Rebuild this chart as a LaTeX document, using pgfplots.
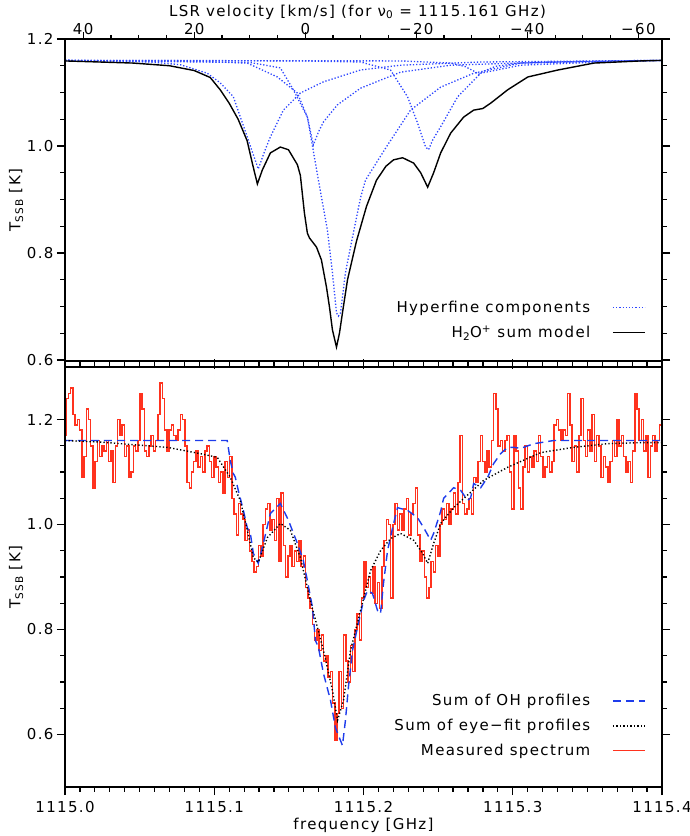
\documentclass[border=0pt]{standalone}
\usepackage{fontspec}
\setmainfont{DejaVu Sans}[LetterSpace=9]
\usepackage{pgfplots}
\pgfplotsset{compat=1.18}

\definecolor{hfblue}{RGB}{45,70,255}
\definecolor{ohblue}{RGB}{30,60,235}
\definecolor{specred}{RGB}{255,50,30}
\newcommand\fs{\fontsize{15}{18}\selectfont}

% frequencies are stored as offsets from 1115 GHz
\pgfplotsset{
  panel/.style={
    scale only axis, width=597pt, anchor=south west, axis on top,
    xmin=0, xmax=0.4,
    xtick={0,0.1,0.2,0.3,0.4}, minor x tick num=9,
    ytick={0.6,0.8,1.0,1.2}, minor y tick num=3,
    tick align=outside,
    major tick length=8pt, minor tick length=4.5pt,
    tick style={draw=black, line width=1.2pt},
    axis line style={line width=1.3pt},
    tick label style={font=\fs},
    label style={font=\fs},
    /pgf/number format/assume math mode=true,
    yticklabel style={/pgf/number format/fixed, /pgf/number format/fixed zerofill,
      /pgf/number format/precision=1, xshift=0pt},
    ylabel={T\textsubscript{SSB} [K]},
    ylabel style={at={(axis description cs:-0.082,0.5)}, anchor=center},
    legend plot pos=right, legend cell align=right,
    legend style={draw=none, fill=none, font=\fs, anchor=south east, row sep=8pt,
      /tikz/every odd column/.append style={column sep=20pt}},
    legend image code/.code={\draw[##1] (0pt,0pt) -- (32pt,0pt);},
  },
  hf/.style={hfblue, line width=1.3pt, dash pattern=on 1.3pt off 1.9pt},
}

\begin{document}
\begin{tikzpicture}
\path[use as bounding box] (0,0) rectangle (690pt,836pt);

% ---------- top panel: model ----------
\begin{axis}[panel, at={(65pt,475pt)}, height=322pt,
  ymin=0.598, ymax=1.2, xtick pos=bottom, xticklabels={},
  legend style={at={(0.978,0.055)}}]

  % hyperfine components
  \addplot[hf] coordinates {(0.0000,1.160) (0.0570,1.157) (0.0772,1.152) (0.0953,1.136)
    (0.1040,1.118) (0.1128,1.092) (0.1221,1.017) (0.1255,0.989) (0.1295,0.957)
    (0.1336,0.989) (0.1376,1.017) (0.1463,1.067) (0.1577,1.099) (0.1732,1.120)
    (0.1980,1.142) (0.2248,1.151) (0.2785,1.157) (0.4000,1.160)};
  \addlegendentry{Hyperfine components}
  \addplot[hf, forget plot] coordinates {(0.0000,1.160) (0.0906,1.158) (0.1221,1.155)
    (0.1423,1.129) (0.1557,1.099) (0.1624,1.054) (0.1664,1.002) (0.1698,1.026)
    (0.1732,1.045) (0.1826,1.077) (0.1980,1.108) (0.2248,1.138) (0.2584,1.151)
    (0.3255,1.157) (0.4000,1.160)};
  \addplot[hf, forget plot] coordinates {(0.0000,1.160) (0.0906,1.157) (0.1242,1.156)
    (0.1443,1.146) (0.1530,1.105) (0.1624,1.054) (0.1698,0.936) (0.1758,0.843)
    (0.1792,0.763) (0.1819,0.688) (0.1832,0.682) (0.1846,0.688) (0.1879,0.763)
    (0.1913,0.811) (0.1980,0.903) (0.2013,0.936) (0.2148,0.996) (0.2315,1.067)
    (0.2517,1.110) (0.2738,1.136) (0.3054,1.155) (0.3590,1.159) (0.4000,1.160)};
  \addplot[hf, forget plot] coordinates {(0.0000,1.160) (0.1577,1.159) (0.1980,1.157)
    (0.2181,1.142) (0.2295,1.092) (0.2362,1.043) (0.2416,0.998) (0.2436,0.993)
    (0.2463,1.011) (0.2517,1.036) (0.2631,1.092) (0.2785,1.136) (0.3054,1.151)
    (0.3590,1.157) (0.4000,1.160)};
  \addplot[hf, forget plot] coordinates {(0.0000,1.160) (0.2248,1.159) (0.2584,1.155)
    (0.2685,1.148) (0.2752,1.138) (0.2772,1.134) (0.2799,1.139) (0.2886,1.149)
    (0.3054,1.155) (0.4000,1.160)};

  % H2O+ sum model
  \addplot[black, line width=1.4pt] coordinates {(0.0000,1.159) (0.0456,1.155)
    (0.0700,1.150) (0.0866,1.141) (0.0973,1.128) (0.1040,1.105) (0.1100,1.080)
    (0.1160,1.050) (0.1220,1.010) (0.1260,0.962) (0.1289,0.929) (0.1322,0.955)
    (0.1376,0.987) (0.1443,0.998) (0.1497,0.993) (0.1557,0.965) (0.1577,0.945)
    (0.1604,0.875) (0.1624,0.837) (0.1638,0.828) (0.1685,0.811) (0.1718,0.787)
    (0.1752,0.736) (0.1772,0.699) (0.1792,0.656) (0.1819,0.624) (0.1839,0.650)
    (0.1859,0.688) (0.1893,0.750) (0.1953,0.822) (0.2020,0.887) (0.2087,0.936)
    (0.2150,0.962) (0.2201,0.974) (0.2262,0.978) (0.2336,0.968) (0.2383,0.950)
    (0.2430,0.923) (0.2470,0.950) (0.2517,0.987) (0.2584,1.024) (0.2671,1.054)
    (0.2738,1.067) (0.2799,1.070) (0.2852,1.080) (0.2966,1.105) (0.3101,1.129)
    (0.3302,1.142) (0.3544,1.155) (0.3859,1.159) (0.4000,1.160)};
  \addlegendentry{H\textsubscript{2}O\textsuperscript{+} sum model}
\end{axis}

% velocity scale on top of the upper panel
\begin{axis}[scale only axis, width=597pt, height=322pt, at={(65pt,475pt)}, anchor=south west,
  axis on top, x dir=reverse, xmin=-64.251, xmax=43.282, ymin=0, ymax=1,
  axis x line*=top, axis y line=none, axis line style={line width=1.3pt},
  xtick={-60,-40,-20,0,20,40}, xticklabels={−60,−40,−20,0,20,40}, minor x tick num=3,
  tick align=outside, major tick length=7pt, minor tick length=4pt,
  tick style={draw=black, line width=1.2pt},
  tick label style={font=\fs}, xticklabel style={yshift=-6pt}, label style={font=\fs},
  xlabel={LSR velocity [km/s] (for ν\textsubscript{0} = 1115.161 GHz)},
  xlabel style={at={(axis description cs:0.5,1.084)}, anchor=center, xshift=-6pt}]
\end{axis}

% ---------- bottom panel: data ----------
\begin{axis}[panel, at={(65pt,49pt)}, height=420pt,
  ymin=0.5, ymax=1.3,
  xticklabels={1115.0,1115.1,1115.2,1115.3,1115.4}, xticklabel style={yshift=-3pt},
  xlabel={frequency [GHz]},
  xlabel style={at={(axis description cs:0.5,-0.0905)}, anchor=center},
  legend style={at={(0.978,0.061)}}]

  \addlegendimage{ohblue, line width=1.4pt, dash pattern=on 8pt off 5pt}
  \addlegendentry{Sum of OH profiles}
  \addlegendimage{black, line width=1.4pt, dash pattern=on 1.3pt off 2.2pt}
  \addlegendentry{Sum of eye−fit profiles}
  \addlegendimage{specred, line width=1.4pt}
  \addlegendentry{Measured spectrum}

  % measured spectrum
  \addplot[draw=specred, line width=1.5pt, const plot mark mid, forget plot] coordinates {
    (0.0000,1.17) (0.0015,1.24) (0.0030,1.25) (0.0045,1.26) (0.0060,1.21) (0.0075,1.19) (0.0090,1.20) (0.0105,1.18) (0.0120,1.09) (0.0135,1.13)
    (0.0150,1.22) (0.0165,1.20) (0.0180,1.15) (0.0195,1.07) (0.0210,1.12) (0.0225,1.16) (0.0240,1.13) (0.0255,1.15) (0.0270,1.14) (0.0285,1.16)
    (0.0300,1.12) (0.0315,1.14) (0.0330,1.08) (0.0345,1.15) (0.0360,1.20) (0.0375,1.17) (0.0390,1.19) (0.0405,1.13) (0.0420,1.15) (0.0435,1.09)
    (0.0450,1.10) (0.0465,1.15) (0.0480,1.14) (0.0495,1.16) (0.0510,1.25) (0.0525,1.22) (0.0540,1.14) (0.0555,1.13) (0.0570,1.15) (0.0585,1.17)
    (0.0600,1.14) (0.0615,1.16) (0.0630,1.21) (0.0645,1.27) (0.0660,1.24) (0.0675,1.18) (0.0690,1.14) (0.0705,1.18) (0.0720,1.19) (0.0735,1.17)
    (0.0750,1.16) (0.0765,1.18) (0.0780,1.21) (0.0795,1.20) (0.0810,1.15) (0.0825,1.08) (0.0840,1.07) (0.0855,1.10) (0.0870,1.12) (0.0885,1.14)
    (0.0900,1.11) (0.0915,1.13) (0.0930,1.10) (0.0945,1.14) (0.0960,1.15) (0.0975,1.12) (0.0990,1.09) (0.1005,1.13) (0.1020,1.11) (0.1035,1.08)
    (0.1050,1.10) (0.1065,1.06) (0.1080,1.12) (0.1095,1.09) (0.1110,1.13) (0.1125,1.05) (0.1140,1.02) (0.1155,0.98) (0.1170,1.04) (0.1185,1.02)
    (0.1200,1.01) (0.1215,0.97) (0.1230,0.99) (0.1245,0.95) (0.1260,0.93) (0.1275,0.91) (0.1290,0.92) (0.1305,0.96) (0.1320,0.94) (0.1335,1.00)
    (0.1350,1.03) (0.1365,1.04) (0.1380,0.99) (0.1395,1.01) (0.1410,0.97) (0.1425,1.05) (0.1440,0.93) (0.1455,1.06) (0.1470,0.96) (0.1485,0.90)
    (0.1500,0.94) (0.1515,0.96) (0.1530,0.92) (0.1545,0.95) (0.1560,0.93) (0.1575,0.97) (0.1590,0.92) (0.1605,0.94) (0.1620,0.88) (0.1635,0.86)
    (0.1650,0.84) (0.1665,0.81) (0.1680,0.78) (0.1695,0.80) (0.1710,0.76) (0.1725,0.79) (0.1740,0.74) (0.1755,0.75) (0.1770,0.71) (0.1785,0.72)
    (0.1800,0.66) (0.1815,0.59) (0.1830,0.64) (0.1845,0.72) (0.1860,0.65) (0.1875,0.79) (0.1890,0.74) (0.1905,0.70) (0.1920,0.77) (0.1935,0.72)
    (0.1950,0.80) (0.1965,0.83) (0.1980,0.78) (0.1995,0.86) (0.2010,0.93) (0.2025,0.88) (0.2040,0.90) (0.2055,0.87) (0.2070,0.92) (0.2085,0.85)
    (0.2100,0.89) (0.2115,0.84) (0.2130,0.92) (0.2145,0.97) (0.2160,1.01) (0.2175,1.00) (0.2190,0.86) (0.2205,1.00) (0.2220,1.04) (0.2235,0.99)
    (0.2250,1.02) (0.2265,0.99) (0.2280,1.03) (0.2295,1.05) (0.2310,0.98) (0.2325,1.02) (0.2340,1.04) (0.2355,1.07) (0.2370,0.98) (0.2385,0.93)
    (0.2400,0.95) (0.2415,0.90) (0.2430,0.86) (0.2445,0.88) (0.2460,0.93) (0.2475,0.91) (0.2490,0.96) (0.2505,0.94) (0.2520,1.00) (0.2535,1.03)
    (0.2550,1.01) (0.2565,1.04) (0.2580,1.00) (0.2595,1.03) (0.2610,1.06) (0.2625,1.02) (0.2640,1.08) (0.2655,1.17) (0.2670,1.04) (0.2685,1.02)
    (0.2700,1.03) (0.2715,1.05) (0.2730,1.02) (0.2745,1.09) (0.2760,1.08) (0.2775,1.12) (0.2790,1.17) (0.2805,1.12) (0.2820,1.10) (0.2835,1.14)
    (0.2850,1.11) (0.2865,1.16) (0.2880,1.25) (0.2895,1.22) (0.2910,1.15) (0.2925,1.16) (0.2940,1.14) (0.2955,1.16) (0.2970,1.17) (0.2985,1.10)
    (0.3000,1.03) (0.3015,1.17) (0.3030,1.14) (0.3045,1.07) (0.3060,1.03) (0.3075,1.11) (0.3090,1.15) (0.3105,1.10) (0.3120,1.13) (0.3135,1.11)
    (0.3150,1.14) (0.3165,1.12) (0.3180,1.17) (0.3195,1.13) (0.3210,1.09) (0.3225,1.11) (0.3240,1.13) (0.3255,1.10) (0.3270,1.12) (0.3285,1.19)
    (0.3300,1.20) (0.3315,1.18) (0.3330,1.16) (0.3345,1.18) (0.3360,1.17) (0.3375,1.25) (0.3390,1.19) (0.3405,1.12) (0.3420,1.15) (0.3435,1.10)
    (0.3450,1.17) (0.3465,1.24) (0.3480,1.16) (0.3495,1.13) (0.3510,1.18) (0.3525,1.14) (0.3540,1.21) (0.3555,1.12) (0.3570,1.17) (0.3585,1.15)
    (0.3600,1.09) (0.3615,1.13) (0.3630,1.11) (0.3645,1.08) (0.3660,1.12) (0.3675,1.16) (0.3690,1.13) (0.3705,1.20) (0.3720,1.15) (0.3735,1.17)
    (0.3750,1.13) (0.3765,1.10) (0.3780,1.12) (0.3795,1.08) (0.3810,1.14) (0.3825,1.25) (0.3840,1.22) (0.3855,1.16) (0.3870,1.20) (0.3885,1.14)
    (0.3900,1.17) (0.3915,1.09) (0.3930,1.15) (0.3945,1.17) (0.3960,1.14) (0.3975,1.16) (0.3990,1.19) (0.4000,1.16)};

  % sum of OH profiles
  \addplot[ohblue, line width=1.4pt, dash pattern=on 8pt off 5pt, forget plot] coordinates {
    (0.0000,1.160) (0.1087,1.160) (0.1094,1.147) (0.1107,1.122) (0.1128,1.097) (0.1141,1.090)
    (0.1161,1.065) (0.1195,1.027) (0.1221,0.994) (0.1242,0.983) (0.1262,0.945) (0.1295,0.926)
    (0.1329,0.964) (0.1376,1.021) (0.1443,1.040) (0.1497,1.008) (0.1557,0.964) (0.1597,0.931)
    (0.1624,0.893) (0.1658,0.842) (0.1678,0.779) (0.1698,0.766) (0.1732,0.716) (0.1779,0.665)
    (0.1812,0.613) (0.1859,0.579) (0.1879,0.627) (0.1899,0.690) (0.1926,0.760) (0.1960,0.804)
    (0.2000,0.855) (0.2027,0.874) (0.2060,0.869) (0.2094,0.836) (0.2114,0.830) (0.2134,0.888)
    (0.2161,0.950) (0.2195,0.994) (0.2228,1.032) (0.2295,1.027) (0.2362,1.013) (0.2403,0.994)
    (0.2450,0.970) (0.2470,0.983) (0.2517,1.025) (0.2537,1.050) (0.2604,1.070) (0.2651,1.065)
    (0.2698,1.046) (0.2718,1.051) (0.2738,1.078) (0.2785,1.070) (0.2832,1.090) (0.2872,1.116)
    (0.2919,1.135) (0.2966,1.147) (0.3007,1.147) (0.3054,1.145) (0.3141,1.154) (0.3188,1.156)
    (0.3275,1.160) (0.4000,1.160)};

  % sum of eye-fit profiles
  \addplot[black, line width=1.4pt, dash pattern=on 1.3pt off 2.2pt, forget plot] coordinates {
    (0.0000,1.160) (0.0235,1.157) (0.0685,1.147) (0.0906,1.135) (0.1020,1.128) (0.1107,1.090)
    (0.1174,1.046) (0.1221,0.990) (0.1262,0.937) (0.1295,0.928) (0.1356,0.975) (0.1443,1.002)
    (0.1510,0.989) (0.1577,0.937) (0.1644,0.855) (0.1732,0.760) (0.1792,0.684) (0.1826,0.627)
    (0.1866,0.665) (0.1913,0.760) (0.1980,0.836) (0.2047,0.912) (0.2114,0.950) (0.2181,0.973)
    (0.2248,0.983) (0.2336,0.970) (0.2396,0.945) (0.2430,0.926) (0.2470,0.964) (0.2517,1.002)
    (0.2604,1.032) (0.2805,1.084) (0.2966,1.109) (0.3188,1.137) (0.3409,1.147) (0.3638,1.154)
    (0.3859,1.156) (0.4000,1.156)};
\end{axis}
\end{tikzpicture}
\end{document}
